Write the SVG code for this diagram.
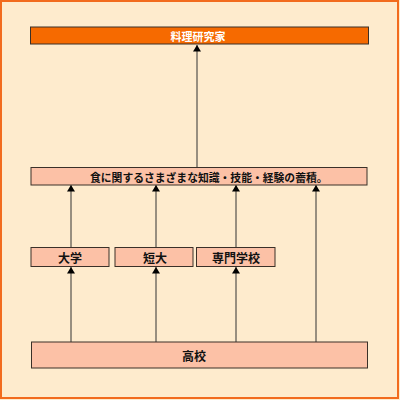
<svg xmlns="http://www.w3.org/2000/svg" width="400" height="400" viewBox="0 0 400 400">
<defs>
<style>
.box{fill:#FCC1A6;stroke:#3a3028;stroke-width:1}
.top{fill:#F66A00;stroke:#3a3028;stroke-width:1}
.t{font-family:"Noto Sans CJK JP","Noto Sans",sans-serif;font-weight:bold;font-size:11px;fill:#111;dominant-baseline:central}
.tl{font-size:12px}
.tw{fill:#fff}
.c{stroke:#333;stroke-width:1;fill:none}
.h{fill:#000}
</style>
</defs>
<rect x="0" y="0" width="400" height="400" fill="#FEEBCD"/>
<rect x="1" y="1" width="397" height="397" fill="none" stroke="#F26B1D" stroke-width="2"/>
<g id="connectors">
<line class="c" x1="197" y1="167.5" x2="197" y2="45"/>
<path class="h" d="M193,51.5 L197,45 L201,51.5 Z"/>
<line class="c" x1="71" y1="342" x2="71" y2="267"/>
<path class="h" d="M67,273.5 L71,267 L75,273.5 Z"/>
<line class="c" x1="156" y1="342" x2="156" y2="267"/>
<path class="h" d="M152,273.5 L156,267 L160,273.5 Z"/>
<line class="c" x1="236" y1="342" x2="236" y2="267"/>
<path class="h" d="M232,273.5 L236,267 L240,273.5 Z"/>
<line class="c" x1="316" y1="342" x2="316" y2="185"/>
<path class="h" d="M312,191.5 L316,185 L320,191.5 Z"/>
<line class="c" x1="71" y1="247" x2="71" y2="185"/>
<path class="h" d="M67,191.5 L71,185 L75,191.5 Z"/>
<line class="c" x1="156" y1="247" x2="156" y2="185"/>
<path class="h" d="M152,191.5 L156,185 L160,191.5 Z"/>
<line class="c" x1="236" y1="247" x2="236" y2="185"/>
<path class="h" d="M232,191.5 L236,185 L240,191.5 Z"/>
</g>
<g id="n-top">
<rect class="top" x="30.5" y="27" width="338" height="17"/>
<text class="t tw" x="198" y="35.5" text-anchor="middle">料理研究家</text>
</g>
<g id="n-mid">
<rect class="box" x="31" y="167.5" width="336" height="17.5"/>
<text class="t" x="90" y="176.5" style="font-size:10.8px">食に関するさまざまな知識・技能・経験の蓄積。</text>
</g>
<g id="n-univ">
<rect class="box" x="31" y="247.5" width="78" height="19"/>
<text class="t tl" x="70" y="257" text-anchor="middle">大学</text>
</g>
<g id="n-junior">
<rect class="box" x="115" y="247.5" width="78" height="19"/>
<text class="t tl" x="155" y="257" text-anchor="middle">短大</text>
</g>
<g id="n-voc">
<rect class="box" x="196.5" y="247.5" width="78.5" height="19"/>
<text class="t tl" x="236" y="257" text-anchor="middle">専門学校</text>
</g>
<g id="n-high">
<rect class="box" x="31.5" y="342" width="336" height="26"/>
<text class="t tl" x="194" y="355.5" text-anchor="middle">高校</text>
</g>
</svg>
